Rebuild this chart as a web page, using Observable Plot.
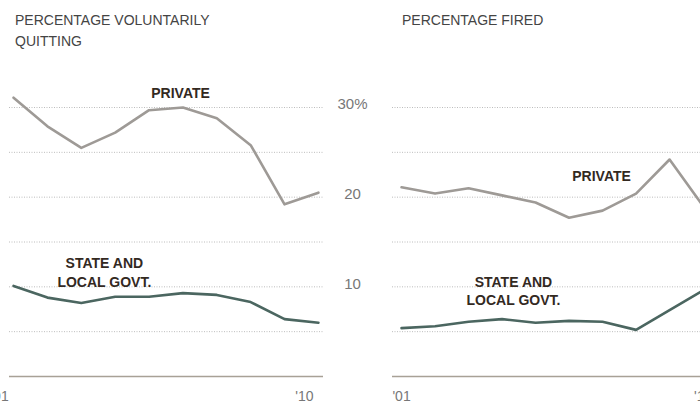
<!DOCTYPE html>
<html><head><meta charset="utf-8">
<script src="https://cdn.jsdelivr.net/npm/d3@7"></script>
<script src="https://cdn.jsdelivr.net/npm/@observablehq/plot@0.6"></script>
<style>
html,body{margin:0;padding:0;background:#fff;overflow:hidden;}
#wrap{position:relative;width:700px;height:403px;overflow:hidden;font-family:"Liberation Sans",Arial,sans-serif;}
.title{position:absolute;font-size:14px;line-height:21px;color:#444;}
.panel{position:absolute;top:60px;}
.panel svg{max-width:none !important;}
</style></head><body>
<div id="wrap">
<div class="title" style="left:15px;top:10px;">PERCENTAGE VOLUNTARILY<br>QUITTING</div>
<div class="title" style="left:402px;top:10px;">PERCENTAGE FIRED</div>
<div id="left" class="panel" style="left:0;width:340px;"></div>
<div id="right" class="panel" style="left:340px;width:400px;"></div>
</div>
<script>
const years = [2001, 2002, 2003, 2004, 2005, 2006, 2007, 2008, 2009, 2010];
const quitPrivate = [31.1, 27.9, 25.5, 27.2, 29.7, 30.0, 28.8, 25.8, 19.2, 20.5];
const quitGovt = [10.1, 8.8, 8.2, 8.9, 8.9, 9.3, 9.1, 8.3, 6.4, 6.0];
const firedPrivate = [21.1, 20.4, 21.0, 20.2, 19.4, 17.7, 18.5, 20.4, 24.2, 19.0];
const firedGovt = [5.4, 5.6, 6.1, 6.4, 6.0, 6.2, 6.1, 5.2, 7.4, 9.6];
const gridValues = [5, 10, 15, 20, 25, 30];
const yTickValues = [10, 20, 30];
const yTickLabels = ["10", "20", "30%"];
const xTickYears = [2001, 2010];
const xTickLabels = ["'01", "'10"];
const seriesNames = ["PRIVATE", "STATE AND\nLOCAL GOVT."];
const quitLabelPos = [{year: 2005.93, value: 31.7}, {year: 2003.68, value: 11.7}];
const firedLabelPos = [{year: 2006.97, value: 22.4}, {year: 2004.34, value: 9.6}];

const toRows = (vals) => years.map((yr, i) => ({year: yr, value: vals[i]}));
const labelRows = (pos) => pos.map((p, i) => ({...p, name: seriesNames[i]}));
const fmtX = d => xTickLabels[xTickYears.indexOf(d)];
const fmtY = d => yTickLabels[yTickValues.indexOf(d)];

const PRIV = "#9e9a96", GOVT = "#4b6660";
const common = (privRows, govtRows, labels) => [
  Plot.ruleY(gridValues, {stroke: "#bdbdbd", strokeDasharray: "1,1.5", strokeWidth: 1}),
  Plot.ruleY([0], {stroke: "#a8a196", strokeWidth: 1.5}),
  Plot.line(privRows, {x: "year", y: "value", stroke: PRIV, strokeWidth: 2.6}),
  Plot.line(govtRows, {x: "year", y: "value", stroke: GOVT, strokeWidth: 2.6}),
  Plot.text(labels, {x: "year", y: "value", text: "name", fill: "#33291f", fontWeight: "bold", fontSize: 14, lineHeight: 1.3, textAnchor: "middle"})
];
const style = {fontFamily: "'Liberation Sans', Arial, sans-serif", fontSize: "14px", color: "#777", background: "transparent", overflow: "visible", maxWidth: "none"};

const left = Plot.plot({
  width: 340, height: 343,
  marginLeft: 9, marginRight: 17, marginTop: 47, marginBottom: 27,
  style,
  x: {domain: [2000.88, 2010.15]},
  y: {domain: [0, 30], axis: null},
  marks: [
    ...common(toRows(quitPrivate), toRows(quitGovt), labelRows(quitLabelPos)),
    Plot.axisX({ticks: xTickYears, tickFormat: fmtX, tickSize: 0, tickPadding: 15, dx: -14, label: null})
  ]
});
document.getElementById("left").appendChild(left);

const right = Plot.plot({
  width: 400, height: 343,
  marginLeft: 52, marginRight: 20, marginTop: 47, marginBottom: 27,
  style,
  x: {domain: [2000.73, 2010.52]},
  y: {domain: [0, 30]},
  marks: [
    ...common(toRows(firedPrivate), toRows(firedGovt), labelRows(firedLabelPos)),
    Plot.axisX({ticks: xTickYears, tickFormat: fmtX, tickSize: 0, tickPadding: 15, label: null}),
    Plot.axisY({ticks: yTickValues, tickFormat: fmtY, tickSize: 0, textAnchor: "middle", dx: -31, dy: -3, fontSize: 15, label: null})
  ]
});
document.getElementById("right").appendChild(right);
</script>
</body></html>
